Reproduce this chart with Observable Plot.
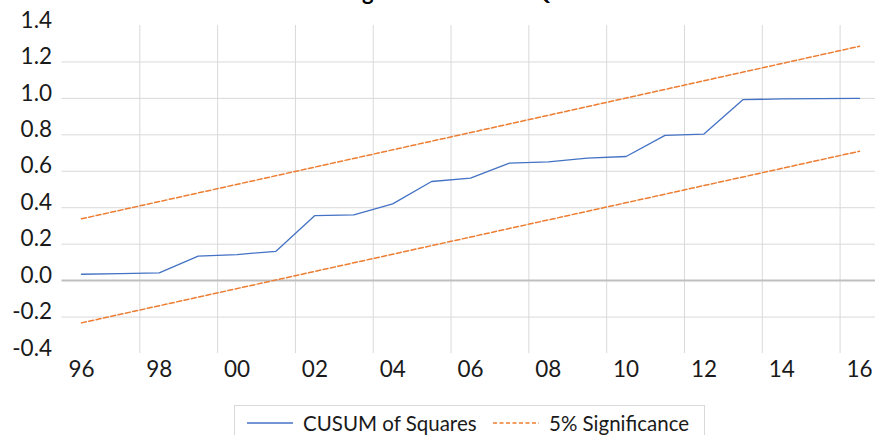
<!DOCTYPE html>
<html>
<head>
<meta charset="utf-8">
<script src="https://cdn.jsdelivr.net/npm/d3@7"></script>
<script src="https://cdn.jsdelivr.net/npm/@observablehq/plot@0.6"></script>
<style>
  html, body { margin: 0; padding: 0; background: #fff; }
  #wrap { position: relative; width: 875px; height: 435px; overflow: hidden; font-family: Lato, "Liberation Sans", sans-serif; color: #1a1a1a; }
  #title { position: absolute; top: -20px; left: 447px; transform: translateX(-50%); white-space: nowrap; font-weight: bold; font-size: 22px; line-height: 24px; color: #000; }
  #chart { position: absolute; top: 0; left: 0; }
  #legend { position: absolute; top: 405px; left: 234px; width: 469px; height: 45px; border: 1px solid #d9d9d9; box-sizing: content-box; }
  .lg-item { position: absolute; top: 0; height: 34px; display: flex; align-items: center; font-size: 20.5px; white-space: nowrap; }
  .lg-item svg { margin-right: 10px; }
</style>
</head>
<body>
<div id="wrap">
  <div id="chart"></div>
  <div id="title">Figure 3: CUSUM SQ</div>
  <div id="legend"></div>
</div>
<script>
// ---- data ----
const years = [1996, 1997, 1998, 1999, 2000, 2001, 2002, 2003, 2004, 2005, 2006,
               2007, 2008, 2009, 2010, 2011, 2012, 2013, 2014, 2015, 2016];
const cusumSq = [0.035, 0.038, 0.042, 0.134, 0.143, 0.161, 0.357, 0.361, 0.421, 0.544, 0.562,
                 0.645, 0.652, 0.672, 0.681, 0.797, 0.804, 0.993, 0.997, 0.999, 1.000];
const bandYears = [1996, 2016];
const upperBound = [0.339, 1.286];
const lowerBound = [-0.232, 0.710];
const yTicks = [-0.4, -0.2, 0.0, 0.2, 0.4, 0.6, 0.8, 1.0, 1.2, 1.4];
const xTickYears = [1996, 1998, 2000, 2002, 2004, 2006, 2008, 2010, 2012, 2014, 2016];
const xTickLabels = ["96", "98", "00", "02", "04", "06", "08", "10", "12", "14", "16"];
const seriesNames = ["CUSUM of Squares", "5% Significance"];

const blue = "#4472C4";
const orange = "#ED7D31";

const cusumData = years.map((y, i) => ({year: y, value: cusumSq[i]}));
const upperData = bandYears.map((y, i) => ({year: y, value: upperBound[i]}));
const lowerData = bandYears.map((y, i) => ({year: y, value: lowerBound[i]}));
// category boundaries between every second year (Excel category axis gridlines)
const gridX = xTickYears.slice(0, -1).map(y => y + 1.5);
const gridY = yTicks.filter(v => v !== 0 && v !== yTicks[0] && v !== yTicks[yTicks.length - 1]);
const labelOf = new Map(xTickYears.map((y, i) => [y, xTickLabels[i]]));

const chart = Plot.plot({
  width: 875,
  height: 405,
  marginLeft: 61.5,
  marginRight: 0,
  marginTop: 25,
  marginBottom: 52,
  style: {fontFamily: "Lato, 'Liberation Sans', sans-serif", color: "#1a1a1a", background: "transparent"},
  x: {domain: [1995.5, 2016.41]},
  y: {domain: [-0.4, 1.4]},
  marks: [
    Plot.ruleY(gridY, {stroke: "#d9d9d9", strokeWidth: 1}),
    Plot.ruleX(gridX, {y1: -0.4, y2: 1.4, stroke: "#d9d9d9", strokeWidth: 1}),
    Plot.ruleY([0], {stroke: "#bfbfbf", strokeWidth: 2}),
    Plot.axisY(yTicks, {tickSize: 0, tickPadding: 10, fontSize: 22.5, dy: -5, tickFormat: d => d.toFixed(1), label: null}),
    Plot.axisX(xTickYears, {tickSize: 0, tickPadding: 8, fontSize: 22.5, tickFormat: d => labelOf.get(d), label: null}),
    Plot.line(upperData, {x: "year", y: "value", stroke: orange, strokeWidth: 1.5, strokeDasharray: "5,2.5"}),
    Plot.line(lowerData, {x: "year", y: "value", stroke: orange, strokeWidth: 1.5, strokeDasharray: "5,2.5"}),
    Plot.line(cusumData, {x: "year", y: "value", stroke: blue, strokeWidth: 1.3})
  ]
});
document.getElementById("chart").appendChild(chart);

// legend
const legend = document.getElementById("legend");
const items = [
  {name: seriesNames[0], color: blue, dash: null, left: 12},
  {name: seriesNames[1], color: orange, dash: "4,2.5", left: 258}
];
for (const it of items) {
  const d = document.createElement("div");
  d.className = "lg-item";
  d.style.left = it.left + "px";
  d.innerHTML = `<svg width="46" height="4"><line x1="0" x2="46" y1="2" y2="2" stroke="${it.color}" stroke-width="1.3" ${it.dash ? `stroke-dasharray="${it.dash}"` : ""}/></svg><span>${it.name}</span>`;
  legend.appendChild(d);
}
</script>
</body>
</html>
